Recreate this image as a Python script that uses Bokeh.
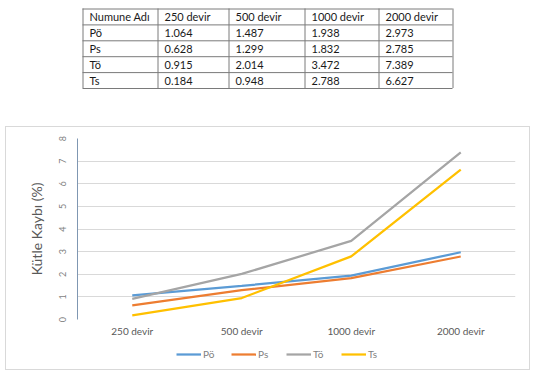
from bokeh.plotting import figure
from bokeh.models import (Range1d, FactorRange, FixedTicker, Legend, LegendItem)
from bokeh.layouts import column
from bokeh.core.properties import value
from bokeh.embed import file_html
from bokeh.resources import INLINE

# Mass loss (%) of each sample after a given number of revolutions
header = "Numune Adı"
cycles = ["250 devir", "500 devir", "1000 devir", "2000 devir"]
samples = ["Pö", "Ps", "Tö", "Ts"]
po = [1.064, 1.487, 1.938, 2.973]
ps = [0.628, 1.299, 1.832, 2.785]
to = [0.915, 2.014, 3.472, 7.389]
ts = [0.184, 0.948, 2.788, 6.627]
y_ticks = [0, 1, 2, 3, 4, 5, 6, 7, 8]

series = [po, ps, to, ts]
colors = ["#5B9BD5", "#ED7D31", "#A5A5A5", "#FFC000"]
FONT = "Lato"


def bare(fig):
    fig.axis.visible = False
    fig.grid.visible = False
    fig.outline_line_color = None


# ---------------- data table ----------------
W, TH = 534, 126
col_edges = [82, 157, 228, 304, 378, 452]
row_top, row_h = 8, 15.9

tbl = figure(width=W, height=TH, x_range=Range1d(0, W), y_range=Range1d(TH, 0),
             output_backend="svg", toolbar_location=None, min_border=0,
             frame_align=False)
bare(tbl)

rows = [[header] + cycles] + [[s] + [f"{v:.3f}" for v in vals]
                              for s, vals in zip(samples, series)]
n_rows = len(rows)
row_edges = [row_top + i * row_h for i in range(n_rows + 1)]

x0s, y0s, x1s, y1s = [], [], [], []
for ry in row_edges:
    x0s.append(col_edges[0]); x1s.append(col_edges[-1])
    y0s.append(ry + 0.5); y1s.append(ry + 0.5)
for cx in col_edges:
    x0s.append(cx + 0.5); x1s.append(cx + 0.5)
    y0s.append(row_edges[0]); y1s.append(row_edges[-1])
tbl.segment(x0=x0s, y0=y0s, x1=x1s, y1=y1s, line_color="#7a7a7a", line_width=1)

tx, ty, tt = [], [], []
for i, r in enumerate(rows):
    for j, cell in enumerate(r):
        tx.append(col_edges[j] + 7)
        ty.append(row_edges[i] + row_h / 2 + 0.5)
        tt.append(cell)
tbl.text(x=tx, y=ty, text=tt, text_font=value(FONT), text_font_size="11px",
         text_color="#1a1a1a", text_baseline="middle", text_align="left")

# ---------------- line chart ----------------
CW = 523          # inner width of the bordered chart box
CH, LH = 215, 27  # chart and legend strip heights
p = figure(width=CW, height=CH, x_range=FactorRange(*cycles), y_range=Range1d(0, 8),
           output_backend="svg", toolbar_location=None, frame_align=False,
           min_border_left=71, min_border_right=14, min_border_top=11,
           min_border_bottom=23)
p.outline_line_color = None
p.xgrid.grid_line_color = None
p.ygrid.grid_line_color = "#d9d9d9"
p.ygrid.grid_line_width = 1

p.yaxis.ticker = FixedTicker(ticks=y_ticks)
p.yaxis.major_label_orientation = "vertical"
p.yaxis.major_tick_line_color = None
p.yaxis.minor_tick_line_color = None
p.yaxis.major_tick_out = 0
p.yaxis.major_tick_in = 0
p.yaxis.axis_line_color = "#7f97b2"
p.yaxis.major_label_text_font = FONT
p.yaxis.major_label_text_font_size = "9px"
p.yaxis.major_label_text_color = "#7f7f7f"
p.yaxis.major_label_standoff = 12
p.yaxis.axis_label = "Kütle Kaybı (%)"
p.yaxis.axis_label_text_font = FONT
p.yaxis.axis_label_text_font_size = "14px"
p.yaxis.axis_label_text_font_style = "normal"
p.yaxis.axis_label_text_color = "#595959"
p.yaxis.axis_label_standoff = 11

p.xaxis.axis_line_color = None
p.xaxis.major_tick_line_color = None
p.xaxis.minor_tick_line_color = None
p.xaxis.major_tick_out = 0
p.xaxis.major_tick_in = 0
p.xaxis.major_label_text_font = FONT
p.xaxis.major_label_text_font_size = "10px"
p.xaxis.major_label_text_color = "#595959"
p.xaxis.major_label_standoff = 5

for vals, c in zip(series, colors):
    p.line(x=cycles, y=vals, line_color=c, line_width=2.25)

# ---------------- legend strip under the chart ----------------
leg = figure(width=CW, height=LH, x_range=Range1d(0, CW), y_range=Range1d(0, LH),
             output_backend="svg", toolbar_location=None, min_border=0,
             frame_align=False)
bare(leg)
nan = float("nan")
items = []
for name, c in zip(samples, colors):
    # a key-only line: a single undefined point, so only its legend swatch shows
    r = leg.line(x=[nan], y=[nan], line_color=c, line_width=2.25)
    items.append(LegendItem(label=name, renderers=[r]))
legend = Legend(items=items, orientation="horizontal", location=(170, 9),
                glyph_width=25, glyph_height=12, label_height=12,
                label_standoff=2, spacing=8, padding=3, margin=0,
                border_line_color=None, background_fill_alpha=0,
                label_text_font=FONT, label_text_font_size="10px",
                label_text_color="#7f7f7f")
leg.add_layout(legend, "center")

box = column(p, leg, styles={"border": "1px solid #d9d9d9"}, margin=(0, 0, 0, 5))
layout = column(tbl, box)
open("out.html", "w").write(file_html(layout, INLINE))
